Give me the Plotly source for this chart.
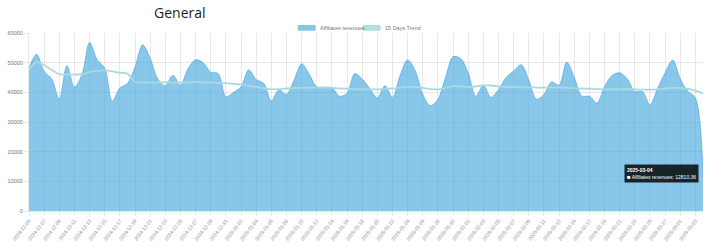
import pandas as pd
import plotly.graph_objects as go

dates = [d.strftime("%Y-%m-%d") for d in pd.date_range("2024-12-05", "2025-03-04", freq="D")]

revenues = [
    48200, 52800, 47000, 44500, 37700, 49000, 41800, 46000, 56800, 51000,
    48200, 37000, 41500, 43000, 48500, 56000, 51500, 44500, 42200, 45800,
    42400, 48000, 51000, 50000, 46800, 46300, 38500,
    40000, 41800, 47600, 44300, 43000, 37100, 40900, 39300, 44100, 49600,
    46100, 41900, 41700, 41600, 38700, 39700, 46300, 44500, 41300, 38100,
    42200, 38300, 45700, 50900, 47300, 39300, 35500, 37700, 45000, 52000,
    51400,
    46500, 38700, 42400, 38300, 40900, 45000, 47200, 49300, 44100, 37700,
    39300, 43500, 42400, 50200, 45000, 38700, 38700, 36400, 41900, 45700,
    46600, 44500, 40300, 40300, 35800, 41300, 46600, 50900,
    44500, 40300, 38100, 12810.36,
]

trend = [
    47700, 50200, 49200, 47500, 46100, 46000, 46000, 46100, 46800, 47200,
    47400, 47100, 46600, 46300, 43500, 43300, 43300, 43300, 43400, 43300,
    43300, 43400, 43500, 43400, 43300, 43200, 43100,
    42900, 42600, 42200, 41800, 41400, 41000, 41100, 41300, 41400, 41500,
    41600, 41600, 41600, 41500, 41300, 41200, 41100, 41000, 41000, 41000,
    41100, 41300, 41600, 41900, 41800, 41500, 41100, 41000, 41500, 42100,
    42000,
    41800, 42000, 42300, 42300, 42000, 41800, 41800, 41700, 41700, 41600,
    41600, 41600, 41700, 41500, 41400, 41300, 41200, 41100, 41000, 41000,
    41000, 41100, 41000, 40900, 40900, 41000, 41300, 41500,
    41400, 41200, 40600, 39600,
]

series_names = ["Affiliates revenues", "15 Days Trend"]
y_ticks = [0, 10000, 20000, 30000, 40000, 50000, 60000]

W, H = 711, 250
ML, MR, MT, MB = 27, 8, 33, 29
PW, PH = W - ML - MR, H - MT - MB


def px(x):
    return (x - ML) / PW


def py(y):
    return (H - MB - y) / PH


area_color = "rgba(66,165,222,0.63)"
trend_color = "#a9dade"
grid = "rgba(0,0,0,0.09)"
font_fam = "Liberation Sans, Arial, sans-serif"

fig = go.Figure()
fig.add_trace(go.Scatter(
    x=dates, y=revenues, name=series_names[0], mode="lines",
    line=dict(color=area_color, width=1, shape="spline", smoothing=0.9),
    fill="tozeroy", fillcolor=area_color, showlegend=False,
))
fig.add_trace(go.Scatter(
    x=dates, y=trend, name=series_names[1], mode="lines",
    line=dict(color=trend_color, width=1.8, shape="spline", smoothing=0.9),
    showlegend=False,
))

shapes = [
    dict(type="rect", xref="paper", yref="paper", x0=px(297), x1=px(314), y0=py(30), y1=py(25),
         fillcolor="#86c5e7", line=dict(color="#86c5e7", width=1)),
    dict(type="rect", xref="paper", yref="paper", x0=px(362), x1=px(379), y0=py(30), y1=py(25),
         fillcolor="#b5e0e3", line=dict(color="#a9dade", width=1)),
]

annotations = [
    dict(text="General", xref="paper", yref="paper", x=px(178), y=py(0), showarrow=False,
         xanchor="center", yanchor="top", borderpad=0,
         font=dict(family="Open Sans, sans-serif", size=14, color="#222")),
    dict(text=series_names[0], xref="paper", yref="paper", x=px(317), y=py(27.5), showarrow=False,
         xanchor="left", yanchor="middle", font=dict(family=font_fam, size=5.5, color="#777")),
    dict(text=series_names[1], xref="paper", yref="paper", x=px(382), y=py(27.5), showarrow=False,
         xanchor="left", yanchor="middle", font=dict(family=font_fam, size=5.5, color="#777")),
    dict(text="<b>" + dates[-1] + "</b><br><span style='font-size:6px'>■</span> "
         + series_names[0] + ": " + f"{revenues[-1]:.2f}",
         x=dates[-1], y=revenues[-1], xref="x", yref="y", showarrow=False,
         xanchor="right", yanchor="middle", xshift=-4, align="left",
         bgcolor="rgba(0,0,0,0.82)", borderpad=2, bordercolor="rgba(0,0,0,0)",
         font=dict(family=font_fam, size=5, color="white")),
]

fig.update_layout(
    width=W, height=H,
    margin=dict(l=ML, r=MR, t=MT, b=MB, pad=0),
    paper_bgcolor="white", plot_bgcolor="white",
    shapes=shapes, annotations=annotations,
    showlegend=False,
    xaxis=dict(
        type="category", range=[0, len(dates) - 1],
        tickmode="array", tickvals=dates[::2], ticktext=dates[::2],
        tickangle=-52, tickfont=dict(family=font_fam, size=5, color="#8a8a8a"),
        showgrid=True, gridcolor=grid, gridwidth=1,
        showline=True, linecolor=grid, ticks="outside", ticklen=4, tickcolor=grid,
        zeroline=False,
    ),
    yaxis=dict(
        range=[0, 60000], tickmode="array", tickvals=y_ticks,
        ticktext=[str(v) for v in y_ticks],
        tickfont=dict(family=font_fam, size=5.5, color="#777"),
        showgrid=True, gridcolor=grid, gridwidth=1,
        showline=True, linecolor=grid, ticks="outside", ticklen=4, tickcolor=grid,
        zeroline=False,
    ),
)

fig.write_html("out.html")
